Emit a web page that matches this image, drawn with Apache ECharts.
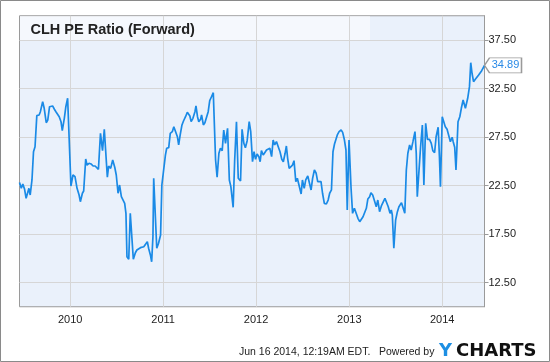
<!DOCTYPE html>
<html><head><meta charset="utf-8">
<script src="https://cdn.jsdelivr.net/npm/echarts@6/dist/echarts.min.js"></script>
<style>html,body{margin:0;padding:0;background:#fff}#c{width:550px;height:362px}</style>
</head><body><div id="c"></div>
<script>
const dates = [
'2009-06-16','2009-06-23','2009-06-29','2009-07-06','2009-07-12','2009-07-16','2009-07-23','2009-07-28','2009-08-04','2009-08-10',
'2009-08-16','2009-08-23','2009-09-01','2009-09-06','2009-09-15','2009-09-21','2009-09-29','2009-10-05','2009-10-12','2009-10-24',
'2009-10-31','2009-11-06','2009-11-13','2009-11-19','2009-11-26','2009-12-01','2009-12-09','2009-12-15','2009-12-22','2009-12-29',
'2010-01-04','2010-01-12','2010-01-20','2010-01-28','2010-02-05','2010-02-10','2010-02-18','2010-02-23','2010-03-03','2010-03-08',
'2010-03-16','2010-03-24','2010-04-01','2010-04-09','2010-04-14','2010-04-22','2010-04-30','2010-05-08','2010-05-15','2010-05-27',
'2010-06-01','2010-06-09','2010-06-17','2010-06-25','2010-07-01','2010-07-08','2010-07-14','2010-07-21','2010-07-27','2010-08-03',
'2010-08-08','2010-08-12','2010-08-19','2010-08-25','2010-08-30','2010-09-06','2010-09-14','2010-09-20','2010-09-27','2010-10-04',
'2010-10-10','2010-10-17','2010-10-23','2010-10-31','2010-11-05','2010-11-12','2010-11-17','2010-11-22','2010-11-25','2010-12-01',
'2010-12-07','2010-12-14','2010-12-22','2010-12-27','2011-01-03','2011-01-10','2011-01-15','2011-01-23','2011-01-29','2011-02-06',
'2011-02-12','2011-02-19','2011-02-26','2011-03-03','2011-03-09','2011-03-16','2011-03-22','2011-03-30','2011-04-06','2011-04-11',
'2011-04-16','2011-04-21','2011-04-28','2011-05-06','2011-05-10','2011-05-16','2011-05-21','2011-05-28','2011-06-01','2011-06-08',
'2011-06-14','2011-06-20','2011-06-27','2011-07-03','2011-07-10','2011-07-17','2011-07-21','2011-07-26','2011-08-01','2011-08-08',
'2011-08-14','2011-08-21','2011-08-27','2011-09-03','2011-09-11','2011-09-18','2011-09-24','2011-10-03','2011-10-09','2011-10-16',
'2011-10-23','2011-11-01','2011-11-07','2011-11-14','2011-11-20','2011-11-27','2011-12-05','2011-12-11','2011-12-18','2011-12-24',
'2011-12-30','2012-01-05','2012-01-12','2012-01-17','2012-01-22','2012-01-29','2012-02-04','2012-02-11','2012-02-17','2012-02-24',
'2012-03-02','2012-03-08','2012-03-14','2012-03-21','2012-03-28','2012-04-04','2012-04-11','2012-04-17','2012-04-24','2012-04-29',
'2012-05-04','2012-05-10','2012-05-16','2012-05-23','2012-05-29','2012-06-05','2012-06-11','2012-06-18','2012-06-26','2012-07-01',
'2012-07-08','2012-07-14','2012-07-22','2012-07-28','2012-08-04','2012-08-10','2012-08-17','2012-08-24','2012-08-30','2012-09-06',
'2012-09-12','2012-09-18','2012-09-25','2012-10-03','2012-10-10','2012-10-16','2012-10-23','2012-10-29','2012-11-04','2012-11-11',
'2012-11-15','2012-11-22','2012-11-30','2012-12-06','2012-12-13','2012-12-19','2012-12-24','2012-12-31','2013-01-08','2013-01-14',
'2013-01-21','2013-01-27','2013-02-04','2013-02-11','2013-02-17','2013-02-24','2013-03-02','2013-03-09','2013-03-15','2013-03-22',
'2013-03-27','2013-04-03','2013-04-09','2013-04-17','2013-04-23','2013-04-30','2013-05-07','2013-05-13','2013-05-21','2013-05-28',
'2013-06-03','2013-06-10','2013-06-15','2013-06-19','2013-06-25','2013-07-02','2013-07-09','2013-07-15','2013-07-25','2013-08-01',
'2013-08-07','2013-08-13','2013-08-19','2013-08-26','2013-09-01','2013-09-08','2013-09-16','2013-09-21','2013-09-25','2013-10-01',
'2013-10-08','2013-10-15','2013-10-21','2013-10-28','2013-11-04','2013-11-12','2013-11-19','2013-11-25','2013-12-02','2013-12-08',
'2013-12-16','2013-12-21','2013-12-25','2014-01-01','2014-01-07','2014-01-13','2014-01-20','2014-01-26','2014-02-02','2014-02-09',
'2014-02-13','2014-02-19','2014-02-24','2014-03-04','2014-03-11','2014-03-17','2014-03-24','2014-03-29','2014-04-02','2014-04-11',
'2014-04-18','2014-04-23','2014-04-28','2014-05-04','2014-05-11','2014-05-18','2014-05-24','2014-05-31','2014-06-05','2014-06-10',
'2014-06-16'
];
const peValues = [
22.8,22.21,22.65,22.11,21.18,21.11,22.21,21.52,23.07,25.98,
26.5,29.7,29.77,30.11,31.14,30.46,28.97,29.25,30.62,30.7,
30.36,30.11,30.28,29.59,29.08,28.15,29.43,30.62,31.49,31.59,
22.45,23.58,23.41,22.21,21.52,20.83,21.7,21.93,25.23,24.61,
24.79,24.72,24.51,24.51,24.38,24.17,27.88,26.09,28.29,23.35,
24.51,24.27,25.13,24.38,23.58,21.7,22.55,21.35,21.35,20.66,
19.63,15.16,14.89,19.63,19.56,14.89,15.57,15.85,15.68,16.09,
16.03,16.19,16.37,16.71,16.03,15.34,14.64,17.22,23.24,23.3,
16.03,16.54,17.4,22.55,22.65,25.64,26.34,26.4,27.88,28.05,
28.56,28.4,27.53,26.68,27.71,28.74,29.15,29.59,30.05,30.21,
29.66,29.08,29.43,30.11,30.7,29.59,29.08,29.32,29.77,28.74,
28.97,29.08,30.11,31.24,31.65,32.07,32.17,25.13,23.35,25.82,
26.34,26.09,28.22,26.85,28.4,23.07,22.38,20.25,25.13,29.08,
23.24,22.96,28.29,26.85,26.4,27.12,29.08,28.05,24.95,25.98,
25.2,25.75,25.47,24.95,26.09,25.64,25.88,26.16,26.34,26.34,
25.47,27.19,26.68,27.02,26.5,25.98,25.2,24.95,25.82,26.57,
25.3,24.27,24.17,24.61,25.06,22.89,23.24,23.41,21.62,23.07,
22.21,23.07,23.48,23.48,22.04,23.24,24.1,23.76,22.89,22.89,
22.89,21.7,20.66,20.59,21.0,21.7,22.04,25.98,26.78,26.78,
27.71,28.05,28.22,27.98,27.19,26.16,19.97,27.19,22.21,19.63,
20.15,20.05,19.12,18.77,18.87,19.28,19.46,20.15,21.11,21.35,
21.76,21.52,21.7,20.31,21.0,19.8,20.39,20.49,21.18,21.0,
20.31,19.63,19.97,19.46,16.03,18.94,19.8,20.31,20.73,20.59,
19.63,24.1,25.82,26.68,26.16,27.02,28.05,25.82,21.35,21.52,
26.5,28.74,22.55,28.91,27.26,27.26,26.85,26.09,25.88,27.53,
28.5,25.47,22.38,29.59,29.77,28.56,28.29,28.15,27.02,27.47,
27.02,26.44,24.1,29.08,29.59,30.46,31.31,31.49,30.46,31.49,
32.69,35.16,34.07,33.2,33.45,33.55,33.89,34.07,34.34,34.48,
34.89
];
const yearTicks = ['2010-01-01','2011-01-01','2012-01-01','2013-01-01','2014-01-01'];
const yTicks = [12.5, 17.5, 22.5, 27.5, 32.5, 37.5];
const xRange = ['2009-06-16', '2014-06-16'];
const yRange = [10, 40];
const titleText = 'CLH PE Ratio (Forward)';
const stampText = 'Jun 16 2014, 12:19AM EDT.';
const poweredText = 'Powered by';
const logoY = 'Y';
const logoRest = 'CHARTS';

function ts(s) { const p = s.split('-'); return new Date(+p[0], +p[1] - 1, +p[2]).getTime(); }
const seriesData = dates.map((d, i) => [ts(d), peValues[i]]);
const last = seriesData[seriesData.length - 1];
const FONT = '"Liberation Sans", Arial, sans-serif';

const chart = echarts.init(document.getElementById('c'), null, { renderer: 'canvas' });
chart.setOption({
  animation: false,
  backgroundColor: '#ffffff',
  grid: {
    left: 19.5, right: 65.5, top: 15.75, bottom: 55.25,
    show: true, backgroundColor: '#eaf1fb', borderColor: '#9a9a9a', borderWidth: 1,
    containLabel: false
  },
  xAxis: {
    type: 'value',
    min: ts(xRange[0]), max: ts(xRange[1]),
    axisLine: { show: false },
    axisTick: { show: false, customValues: yearTicks.map(ts) },
    axisLabel: {
      customValues: yearTicks.map(ts),
      formatter: v => String(new Date(v).getFullYear()),
      color: '#222', fontSize: 11, fontFamily: FONT, margin: 8
    },
    splitLine: { show: true, lineStyle: { color: '#d6d6d6', width: 1 } }
  },
  yAxis: {
    type: 'value', position: 'right',
    min: yRange[0], max: yRange[1],
    axisLine: { show: true, lineStyle: { color: '#9a9a9a' } },
    axisTick: { show: true, inside: false, length: 4, customValues: yTicks, lineStyle: { color: '#9a9a9a' } },
    axisLabel: {
      customValues: yTicks,
      formatter: v => v.toFixed(2),
      color: '#222', fontSize: 11, fontFamily: FONT, margin: 4
    },
    splitLine: { show: true, lineStyle: { color: '#d6d6d6', width: 1 } }
  },
  graphic: [
    { type: 'rect', z: 0, silent: true, shape: { x: 20, y: 16, width: 350, height: 24 },
      style: { fill: 'rgba(255,255,255,0.5)' } },
    { type: 'text', z: 10, x: 30.5, y: 30, style: { text: titleText, font: 'bold 14.5px ' + FONT, fill: '#222', textVerticalAlign: 'middle' } },
    { type: 'text', z: 10, x: 239, y: 352, style: { text: stampText, font: '10.5px ' + FONT, fill: '#222', textVerticalAlign: 'middle' } },
    { type: 'text', z: 10, x: 379, y: 352, style: { text: poweredText, font: '10.5px ' + FONT, fill: '#222', textVerticalAlign: 'middle' } },
    { type: 'text', z: 10, x: 439, y: 351, style: { text: logoY, font: 'bold 18px "DejaVu Sans", sans-serif', fill: '#1d8fe3', textVerticalAlign: 'middle' } },
    { type: 'text', z: 10, x: 456, y: 351, style: { text: logoRest, font: 'bold 18px "DejaVu Sans", sans-serif', fill: '#111', textVerticalAlign: 'middle' } },
    { type: 'rect', z: 10, silent: true, shape: { x: 0.5, y: 0.5, width: 549, height: 361 },
      style: { fill: 'none', stroke: '#8a8a8a', lineWidth: 1 } }
  ],
  series: [{
    type: 'line',
    data: seriesData,
    showSymbol: false,
    symbol: 'none',
    clip: false,
    lineStyle: { color: '#1a8ae6', width: 1.7 },
    markPoint: {
      symbol: 'path://M0,7.5L5,0L37,0L37,15L5,15Z',
      symbolSize: [37, 15],
      symbolKeepAspect: false,
      symbolOffset: [18.5, 0],
      itemStyle: { color: '#ffffff', borderColor: '#9a9a9a', borderWidth: 1 },
      label: { show: true, position: 'inside', offset: [2.5, 0], formatter: () => last[1].toFixed(2), color: '#2a8ae6', fontSize: 11, fontFamily: FONT },
      data: [{ coord: [last[0], last[1]] }]
    }
  }]
});
</script></body></html>
